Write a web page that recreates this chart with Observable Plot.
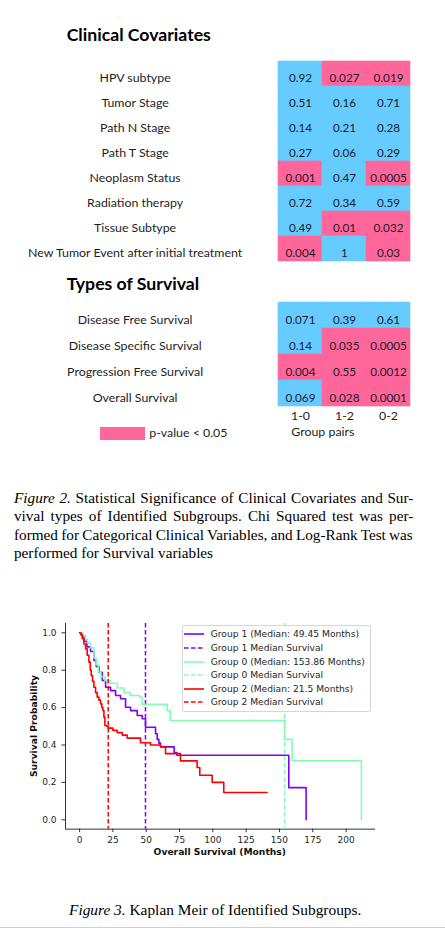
<!DOCTYPE html>
<html><head><meta charset="utf-8">
<script src="https://cdn.jsdelivr.net/npm/d3@7"></script>
<script src="https://cdn.jsdelivr.net/npm/@observablehq/plot@0.6"></script>
<style>
body{margin:0;background:#fff;}
#page{position:relative;width:445px;height:928px;overflow:hidden;background:#fff;}
.abs{position:absolute;white-space:nowrap;}
</style></head><body><div id="page"></div>
<script>
// ---------- DATA ----------
const pairs = ["1-0", "1-2", "0-2"];
const clinicalRows = ["HPV subtype", "Tumor Stage", "Path N Stage", "Path T Stage", "Neoplasm Status", "Radiation therapy", "Tissue Subtype", "New Tumor Event after initial treatment"];
const clinical10 = [0.92, 0.51, 0.14, 0.27, 0.001, 0.72, 0.49, 0.004];
const clinical12 = [0.027, 0.16, 0.21, 0.06, 0.47, 0.34, 0.01, 1];
const clinical02 = [0.019, 0.71, 0.28, 0.29, 0.0005, 0.59, 0.032, 0.03];
const clinicalSig10 = [0, 0, 0, 0, 1, 0, 0, 1];
const clinicalSig12 = [1, 0, 0, 0, 0, 0, 1, 0];
const clinicalSig02 = [1, 0, 0, 0, 1, 0, 1, 1];

const survivalRows = ["Disease Free Survival", "Disease Specific Survival", "Progression Free Survival", "Overall Survival"];
const survival10 = [0.071, 0.14, 0.004, 0.069];
const survival12 = [0.39, 0.035, 0.55, 0.028];
const survival02 = [0.61, 0.0005, 0.0012, 0.0001];
const survivalSig10 = [0, 0, 1, 0];
const survivalSig12 = [0, 1, 1, 1];
const survivalSig02 = [0, 1, 1, 1];

// Kaplan-Meier curves (months, survival probability)
const g1Time = [0, 1.5, 3.25, 5.5, 8.25, 10.75, 12.5, 14.5, 17, 19.5, 23.25, 27, 30.75, 34.5, 38.25, 43.25, 47, 49.45, 57, 58.25, 59.5, 60.75, 71, 73, 157, 170];
const g1Surv = [1.0, 0.985, 0.955, 0.925, 0.9, 0.852, 0.82, 0.789, 0.745, 0.709, 0.691, 0.665, 0.647, 0.602, 0.584, 0.558, 0.54, 0.495, 0.46, 0.43, 0.41, 0.39, 0.36, 0.345, 0.172, 0.0];
const g0Time = [0, 2.5, 4.5, 6, 8.25, 10.75, 12.5, 14, 16, 19, 23, 28.25, 33.25, 38, 45, 47, 65.75, 68, 153.9, 159.5, 211.5];
const g0Surv = [1, 0.985, 0.965, 0.945, 0.92, 0.865, 0.83, 0.79, 0.765, 0.745, 0.73, 0.705, 0.68, 0.665, 0.655, 0.617, 0.584, 0.531, 0.43, 0.316, 0.0];
const g2Time = [0, 1, 2, 3.2, 4.5, 5.7, 7, 8, 8.75, 9.7, 10.75, 12, 13.25, 14.5, 15.75, 16.7, 17.5, 18.25, 19, 20.25, 21.5, 25, 28.2, 32, 35.7, 45.7, 53.2, 60.7, 64.5, 75.7, 88.2, 90.2, 99.5, 108.2, 140.7];
const g2Surv = [1, 0.99, 0.968, 0.94, 0.914, 0.88, 0.843, 0.8, 0.771, 0.74, 0.709, 0.68, 0.656, 0.64, 0.62, 0.6, 0.584, 0.549, 0.504, 0.5, 0.49, 0.478, 0.466, 0.453, 0.437, 0.412, 0.4, 0.39, 0.354, 0.315, 0.28, 0.238, 0.2, 0.146, 0.146];
const groupNames = ["Group 1", "Group 0", "Group 2"];
const groupMedians = [49.45, 153.86, 21.5];
const groupColors = ["#8000FF", "#80FFB4", "#FF0000"];
const kmXTicks = [0, 25, 50, 75, 100, 125, 150, 175, 200];
const kmYTicks = [0, 0.2, 0.4, 0.6, 0.8, 1.0];
const kmXDomain = [-10.575, 222.075];
const kmYDomain = [-0.05, 1.05];

// ---------- helpers ----------
const page = document.getElementById("page");
const ctx = document.createElement("canvas").getContext("2d");
function measure(font, text) { ctx.font = font; return ctx.measureText(text); }
function fitSize(text, pre, family, target) { return 100 * target / measure(`${pre} 100px ${family}`, text).width; }
function place(html, {x, cy, size, family, weight = "normal", style = "normal", color = "#000", anchor = "start", ws = 0}) {
  const font = `${style} ${weight} ${size}px ${family}`;
  const m = measure(font, "H");
  const capH = m.actualBoundingBoxAscent;
  const fa = m.fontBoundingBoxAscent, fd = m.fontBoundingBoxDescent;
  const L = Math.ceil(size * 1.4);
  const baseline = cy + capH / 2;
  const top = baseline - ((L - (fa + fd)) / 2 + fa);
  const div = document.createElement("div");
  div.className = "abs";
  div.style.font = font;
  div.style.lineHeight = L + "px";
  div.style.top = top + "px";
  div.style.left = x + "px";
  div.style.color = color;
  if (ws) div.style.wordSpacing = ws + "px";
  if (anchor === "middle") div.style.transform = "translateX(-50%)";
  div.innerHTML = html;
  page.appendChild(div);
  return div;
}
function mount(node, top) {
  const w = document.createElement("div");
  w.className = "abs";
  w.style.left = "0px"; w.style.top = top + "px";
  w.appendChild(node);
  page.appendChild(w);
}

const blue = "#66CCFF", pink = "#FF6699", cellText = "#1a1a30", labelColor = "#1e1e1e";
const LATO = "Lato";
const titleFs = fitSize("Clinical Covariates", "bold", LATO, 144.3);
const rowFs = fitSize("New Tumor Event after initial treatment", "normal", LATO, 215.6);
const valFs = fitSize("0.0005", "normal", LATO, 36.7);

// ---------- titles ----------
place("Clinical Covariates", {x: 66.7, cy: 34.6, size: titleFs, family: LATO, weight: "bold", color: "#000"});
place("Types of Survival", {x: 66.7, cy: 284.3, size: titleFs, family: LATO, weight: "bold", color: "#000"});

// ---------- heatmaps ----------
function heat(rows, cols, sigs, height, marginBottom, withAxis) {
  const table = rows.flatMap((r, i) => pairs.map((p, j) => ({row: r, pair: p, val: cols[j][i], sig: sigs[j][i]})));
  const marks = [
    Plot.cell(table, {x: "pair", y: "row", fill: "sig", stroke: "sig", strokeWidth: 0.6, inset: 0}),
    Plot.text(table, {x: "pair", y: "row", text: d => String(d.val), dy: 4.3, fontSize: valFs, fill: cellText}),
    Plot.text(rows, {y: d => d, text: d => d, frameAnchor: "left", textAnchor: "middle", dx: 134.6 - 277.3, dy: 4.3, fontSize: rowFs, fill: labelColor})
  ];
  if (withAxis) marks.push(Plot.axisX({tickSize: 0, tickPadding: 4, label: null, fontSize: rowFs, fill: labelColor}));
  return Plot.plot({
    width: 445, height, marginTop: 0, marginBottom, marginLeft: 277.3, marginRight: 35.3,
    x: {domain: pairs, padding: 0, axis: withAxis ? undefined : null},
    y: {domain: rows, padding: 0, axis: null},
    color: {type: "ordinal", domain: [0, 1], range: [blue, pink]},
    style: {fontFamily: LATO, fontSize: rowFs + "px", background: "transparent", overflow: "visible"},
    marks
  });
}
mount(heat(clinicalRows, [clinical10, clinical12, clinical02], [clinicalSig10, clinicalSig12, clinicalSig02], 205, 0, false), 58.3);
mount(heat(survivalRows, [survival10, survival12, survival02], [survivalSig10, survivalSig12, survivalSig02], 104.4 + 25, 25, true), 302.3);

// legend of table
const sw = document.createElement("div");
sw.className = "abs";
Object.assign(sw.style, {left: "100px", top: "427.3px", width: "45px", height: "12.7px", background: pink});
page.appendChild(sw);
place("p-value &lt; 0.05", {x: 149.3, cy: 433.2, size: rowFs, family: LATO, color: labelColor});
place("Group pairs", {x: 322.8, cy: 432.8, size: rowFs, family: LATO, color: labelColor, anchor: "middle"});

// ---------- Figure 2 caption ----------
const SERIF = '"Liberation Serif"';
const capFs = fitSize("performed for Survival variables", "normal", SERIF, 199.3);
const capLines = [
  ["Figure 2.", " Statistical Significance of Clinical Covariates and Sur-"],
  ["", "vival types of Identified Subgroups.  Chi Squared test was per-"],
  ["", "formed for Categorical Clinical Variables, and Log-Rank Test was"],
  ["", "performed for Survival variables"]
];
capLines.forEach(([it, rest], i) => {
  const restC = rest.replace(/\s+/g, " ");
  const nat = (it ? measure(`italic normal ${capFs}px ${SERIF}`, it).width : 0) + measure(`normal normal ${capFs}px ${SERIF}`, restC).width;
  const spaces = ((it + restC).match(/ /g) || []).length;
  const ws = i < 3 ? (399.3 - nat) / spaces : 0;
  place((it ? `<i>${it}</i>` : "") + restC, {x: 14, cy: 498.5 + i * 18.33, size: capFs, family: SERIF, color: "#000", ws});
});

// ---------- Kaplan-Meier plot ----------
const kmTop = 600;
const toRows = (t, s) => t.map((x, i) => ({t: x, s: s[i]}));
const curves = [toRows(g1Time, g1Surv), toRows(g0Time, g0Surv), toRows(g2Time, g2Surv)];
const axisColor = "#333";
const kmMarks = [
  Plot.ruleX([kmXDomain[0]], {stroke: axisColor, strokeWidth: 1}),
  Plot.ruleY([kmYDomain[0]], {stroke: axisColor, strokeWidth: 1}),
  Plot.axisX({ticks: kmXTicks, tickSize: 3.5, tickPadding: 4, label: null, stroke: axisColor}),
  Plot.axisY({ticks: kmYTicks, tickFormat: d3.format(".1f"), tickSize: 3.5, tickPadding: 5.5, label: null, stroke: axisColor})
];
curves.forEach((c, i) => {
  kmMarks.push(Plot.line(c, {x: "t", y: "s", curve: "step-after", stroke: groupColors[i], strokeWidth: 1.6}));
  kmMarks.push(Plot.ruleX([groupMedians[i]], {stroke: groupColors[i], strokeWidth: 1.5, strokeDasharray: "4.5,2.5"}));
});
const km = Plot.plot({
  width: 445, height: 260, marginLeft: 65, marginRight: 70, marginTop: 622.95 - kmTop, marginBottom: 260 - (828.65 - kmTop),
  x: {domain: kmXDomain},
  y: {domain: kmYDomain},
  style: {fontFamily: '"DejaVu Sans"', fontSize: "9px", color: "#262626", background: "transparent", overflow: "visible"},
  marks: kmMarks
});
mount(km, kmTop);

const DJV = '"DejaVu Sans"';
const axLabFs = fitSize("Overall Survival (Months)", "bold", DJV, 132.7);
place("Overall Survival (Months)", {x: 219.8, cy: 851.4, size: axLabFs, family: DJV, weight: "bold", color: "#111", anchor: "middle"});
const yl = document.createElement("div");
yl.className = "abs";
yl.style.font = `normal bold ${axLabFs}px ${DJV}`;
yl.style.lineHeight = axLabFs + "px";
Object.assign(yl.style, {left: "33.5px", top: "725.8px", color: "#111", transform: "translate(-50%,-50%) rotate(-90deg)"});
yl.textContent = "Survival Probability";
page.appendChild(yl);

// legend box
const legFs = fitSize("Group 0 (Median: 153.86 Months)", "normal", DJV, 154.3);
const lb = document.createElement("div");
lb.className = "abs";
Object.assign(lb.style, {left: "181.7px", top: "625px", width: "187.3px", height: "84.7px", background: "rgba(255,255,255,0.93)", border: "1px solid #d6d6d6", borderRadius: "2px"});
page.appendChild(lb);
const legItems = [];
groupNames.forEach((g, i) => {
  legItems.push({text: `${g} (Median: ${groupMedians[i]} Months)`, color: groupColors[i], dash: null});
  legItems.push({text: `${g} Median Survival`, color: groupColors[i], dash: "4.5,2.5"});
});
legItems.forEach((it, k) => {
  const cy = 634.4 + k * 13.6;
  const s = document.createElementNS("http://www.w3.org/2000/svg", "svg");
  s.setAttribute("width", 22); s.setAttribute("height", 4);
  s.style.position = "absolute"; s.style.left = "183px"; s.style.top = (cy - 2) + "px";
  const ln = document.createElementNS("http://www.w3.org/2000/svg", "line");
  ln.setAttribute("x1", 1); ln.setAttribute("x2", 21); ln.setAttribute("y1", 2); ln.setAttribute("y2", 2);
  ln.setAttribute("stroke", it.color); ln.setAttribute("stroke-width", 1.6);
  if (it.dash) ln.setAttribute("stroke-dasharray", it.dash);
  s.appendChild(ln);
  page.appendChild(s);
  place(it.text, {x: 210.7, cy, size: legFs, family: DJV, color: "#262626"});
});

// ---------- Figure 3 caption ----------
const cap3Fs = (() => {
  const w = measure(`italic normal 100px ${SERIF}`, "Figure 3.").width + measure(`normal normal 100px ${SERIF}`, " Kaplan Meir of Identified Subgroups.").width;
  return 100 * 292.7 / w;
})();
place("<i>Figure 3.</i> Kaplan Meir of Identified Subgroups.", {x: 69, cy: 910, size: cap3Fs, family: SERIF, color: "#000"});

const bl = document.createElement("div");
bl.className = "abs";
Object.assign(bl.style, {left: "0px", top: "927px", width: "445px", height: "1px", background: "#cfcfcf"});
page.appendChild(bl);
</script>
</body></html>
